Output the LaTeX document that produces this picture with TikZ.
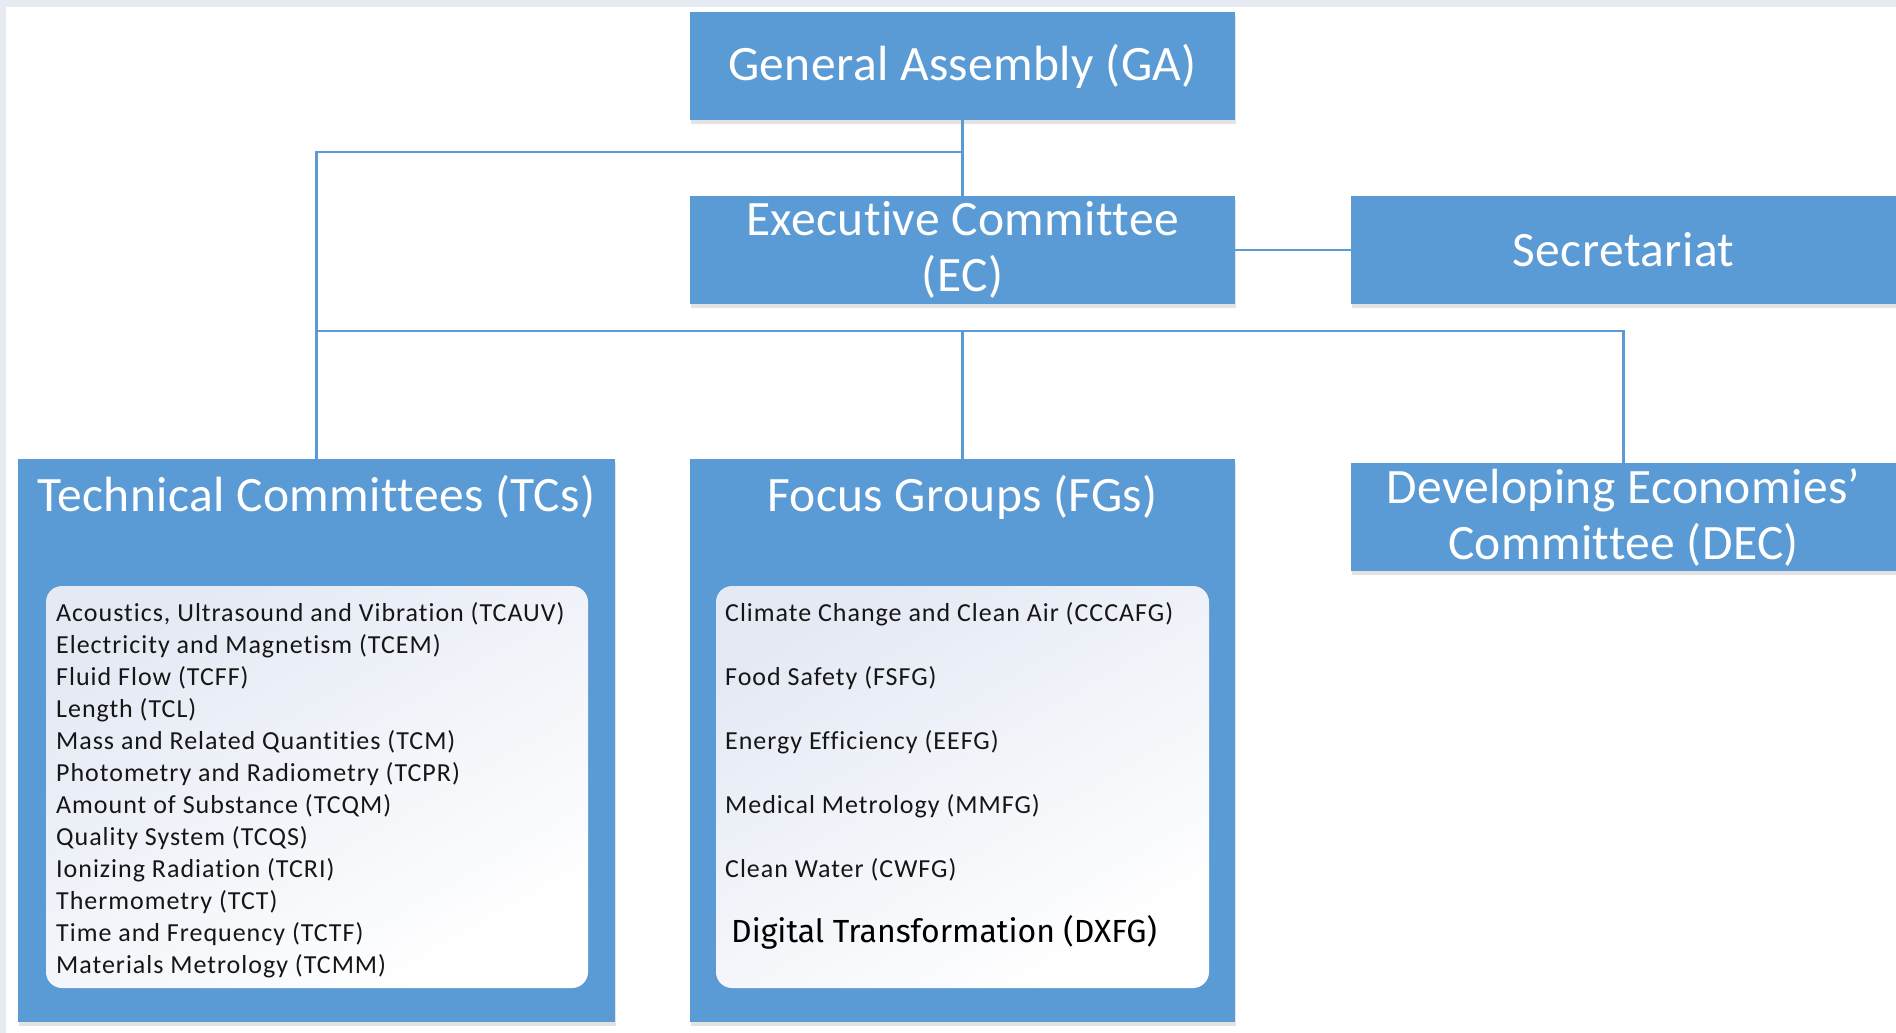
\documentclass[tikz,border=0pt]{standalone}
\usepackage{fontspec}
\setmainfont{Carlito}
\newfontfamily\listfont[LetterSpace=3.8,Ligatures=NoCommon]{Carlito}
\newfontfamily\titlefont[LetterSpace=0.8,Ligatures=NoCommon]{Carlito}
\newfontfamily\dxfont{Fira Sans}
\usetikzlibrary{shadows}
\definecolor{boxblue}{HTML}{5B9BD5}
\definecolor{stripgrey}{HTML}{E6EBF2}
\definecolor{innertop}{HTML}{E4E9F4}
\definecolor{listtext}{HTML}{161616}
\begin{document}
\begin{tikzpicture}[x=1pt,y=-1pt,
  bluebox/.style={fill=boxblue, inner sep=0pt, text=white,
    font=\titlefont\fontsize{49.5}{56}\selectfont, align=center,
    drop shadow={shadow xshift=1pt, shadow yshift=-4pt, opacity=0.18, fill=black!60}},
  innerbox/.style={rounded corners=16pt, inner sep=0pt,
    top color=innertop, bottom color=white, shading angle=30},
  boxtitle/.style={text=white, inner sep=0pt, font=\titlefont\fontsize{49.5}{56}\selectfont},
  listitem/.style={anchor=base west, inner sep=0pt, text=listtext,
    font=\listfont\fontsize{26}{30}\selectfont},
  conn/.style={draw=boxblue, line width=2.6pt}]
\useasboundingbox (0,0) rectangle (1896,1033);
\fill[white] (0,0) rectangle (1896,1033);
% faint screenshot frame
\fill[stripgrey] (0,0) rectangle (1896,7);
\fill[stripgrey] (0,0) rectangle (6,1033);

% boxes
\node[bluebox, minimum width=545, minimum height=108] (ga) at (962.5,66) {General Assembly (GA)};
\node[bluebox, minimum width=545, minimum height=108] (ec) at (962.5,250) {Executive Committee\\(EC)};
\node[bluebox, minimum width=545, minimum height=108] (sec) at (1623.5,250) {Secretariat};
\node[bluebox, minimum width=545, minimum height=108] (dec) at (1623.5,517) {Developing Economies’\\Committee (DEC)};
\node[bluebox, minimum width=597, minimum height=563] (tc) at (316.5,740.5) {};
\node[bluebox, minimum width=545, minimum height=563] (fg) at (962.5,740.5) {};

\node[boxtitle] (tct) at (316.5,497) {Technical Committees (TCs)};
\node[boxtitle] (fgt) at (962.5,497) {Focus Groups (FGs)};

\node[innerbox, minimum width=542, minimum height=402] (tcin) at (317,787) {};
\node[innerbox, minimum width=493, minimum height=402] (fgin) at (962.5,787) {};

% TC list
\foreach \t [count=\i from 0] in {
  {Acoustics, Ultrasound and Vibration (TCAUV)},
  {Electricity and Magnetism (TCEM)},
  {Fluid Flow (TCFF)},
  {Length (TCL)},
  {Mass and Related Quantities (TCM)},
  {Photometry and Radiometry (TCPR)},
  {Amount of Substance (TCQM)},
  {Quality System (TCQS)},
  {Ionizing Radiation (TCRI)},
  {Thermometry (TCT)},
  {Time and Frequency (TCTF)},
  {Materials Metrology (TCMM)}}
  \node[listitem] (tcl\i) at (56,621+32*\i) {\t};

% FG list
\foreach \t [count=\i from 0] in {
  {Climate Change and Clean Air (CCCAFG)},
  {Food Safety (FSFG)},
  {Energy Efficiency (EEFG)},
  {Medical Metrology (MMFG)},
  {Clean Water (CWFG)}}
  \node[listitem] (fgl\i) at (725,621+64*\i) {\t};
\node[anchor=base west, inner sep=0pt, text=black, font=\dxfont\fontsize{32}{36}\selectfont]
  (fgl5) at (731,942) {Digital Transformation (DXFG)};

% connectors
\coordinate (j1) at (962.5,152);
\coordinate (j2) at (316.5,152);
\coordinate (hl) at (316.5,331);
\coordinate (hm) at (962.5,331);
\coordinate (hr) at (1623.5,331);
\draw[conn] (ga.south) -- (ec.north);
\draw[conn] (j1) -- (j2) -- (tc.north);
\draw[conn] (hl) -- (hr) -- (dec.north);
\draw[conn] (hm) -- (fg.north);
\draw[conn] (ec.east) -- (sec.west);
\end{tikzpicture}
\end{document}
